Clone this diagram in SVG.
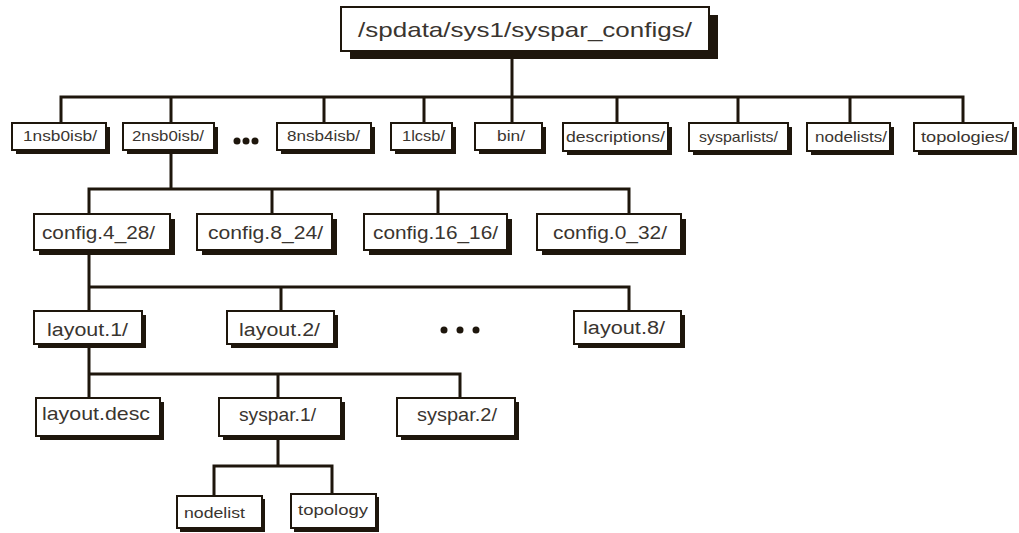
<svg xmlns="http://www.w3.org/2000/svg" width="1019" height="533" viewBox="0 0 1019 533">
<style>
.bg{fill:#ffffff}
.sh{fill:#1e160c}
.bx{fill:#ffffff;stroke:#1e160c;stroke-width:2}
.t{font-family:"Liberation Sans",Arial,sans-serif;fill:#3a3530}
.c{fill:none;stroke:#1e160c;stroke-width:3;stroke-linecap:square}
.dot{fill:#1e160c}
</style>
<rect class="bg" x="0" y="0" width="1019" height="533"/>
<g id="connectors">
<path class="c" d="M512 51V97M61 97H963M61 97V123M171 97V123M324 97V123M424 97V123M512 97V123M617 97V123M738 97V123M850 97V123M963 97V123"/>
<path class="c" d="M171 151V189M89 189H629M89 189V214M272 189V214M438 189V214M629 189V214"/>
<path class="c" d="M89 250V287M89 287H629M89 287V311M281 287V311M629 287V311"/>
<path class="c" d="M89 344V374M89 374H460M89 374V398M278 374V398M460 374V398"/>
<path class="c" d="M278 436V466M214 466H332M214 466V496M332 466V494"/>
</g>
<g id="root">
<rect class="sh" x="350" y="15" width="368" height="44"/>
<rect class="bx" x="341" y="7" width="368" height="44"/>
<text class="t" x="358" y="37" font-size="21" textLength="334" lengthAdjust="spacingAndGlyphs">/spdata/sys1/syspar_configs/</text>
</g>
<g id="n1nsb0isb">
<rect class="sh" x="16" y="127" width="94" height="27"/>
<rect class="bx" x="12" y="123" width="94" height="27"/>
<text class="t" x="23" y="141" font-size="15" textLength="74" lengthAdjust="spacingAndGlyphs">1nsb0isb/</text>
</g>
<g id="n2nsb0isb">
<rect class="sh" x="127" y="127" width="91" height="27"/>
<rect class="bx" x="123" y="123" width="91" height="27"/>
<text class="t" x="132" y="141" font-size="15" textLength="72" lengthAdjust="spacingAndGlyphs">2nsb0isb/</text>
</g>
<g id="dots1">
<circle class="dot" cx="237" cy="141" r="3.5"/>
<circle class="dot" cx="246" cy="141" r="3.5"/>
<circle class="dot" cx="255" cy="141" r="3.5"/>
</g>
<g id="n8nsb4isb">
<rect class="sh" x="281" y="127" width="94" height="27"/>
<rect class="bx" x="277" y="123" width="94" height="27"/>
<text class="t" x="287" y="141" font-size="15" textLength="73" lengthAdjust="spacingAndGlyphs">8nsb4isb/</text>
</g>
<g id="n1lcsb">
<rect class="sh" x="395" y="127" width="61" height="27"/>
<rect class="bx" x="391" y="123" width="61" height="27"/>
<text class="t" x="402" y="141" font-size="15" textLength="43" lengthAdjust="spacingAndGlyphs">1lcsb/</text>
</g>
<g id="nbin">
<rect class="sh" x="479" y="127" width="67" height="27"/>
<rect class="bx" x="475" y="123" width="67" height="27"/>
<text class="t" x="497" y="141" font-size="15" textLength="28" lengthAdjust="spacingAndGlyphs">bin/</text>
</g>
<g id="ndescriptions">
<rect class="sh" x="567" y="127" width="105" height="28"/>
<rect class="bx" x="563" y="123" width="105" height="28"/>
<text class="t" x="566" y="142" font-size="15" textLength="99" lengthAdjust="spacingAndGlyphs">descriptions/</text>
</g>
<g id="nsysparlists">
<rect class="sh" x="693" y="127" width="99" height="28"/>
<rect class="bx" x="689" y="123" width="99" height="28"/>
<text class="t" x="699" y="142" font-size="15" textLength="79" lengthAdjust="spacingAndGlyphs">sysparlists/</text>
</g>
<g id="nnodelists">
<rect class="sh" x="811" y="127" width="83" height="28"/>
<rect class="bx" x="807" y="123" width="83" height="28"/>
<text class="t" x="815" y="142" font-size="15" textLength="72" lengthAdjust="spacingAndGlyphs">nodelists/</text>
</g>
<g id="ntopologies">
<rect class="sh" x="918" y="127" width="99" height="28"/>
<rect class="bx" x="914" y="123" width="99" height="28"/>
<text class="t" x="921" y="142" font-size="15" textLength="88" lengthAdjust="spacingAndGlyphs">topologies/</text>
</g>
<g id="config_4_28">
<rect class="sh" x="39" y="219" width="136" height="36"/>
<rect class="bx" x="34" y="214" width="136" height="36"/>
<text class="t" x="42" y="239" font-size="18" textLength="113" lengthAdjust="spacingAndGlyphs">config.4_28/</text>
</g>
<g id="config_8_24">
<rect class="sh" x="202" y="219" width="135" height="36"/>
<rect class="bx" x="197" y="214" width="135" height="36"/>
<text class="t" x="208" y="239" font-size="18" textLength="115" lengthAdjust="spacingAndGlyphs">config.8_24/</text>
</g>
<g id="config_16_16">
<rect class="sh" x="369" y="219" width="143" height="36"/>
<rect class="bx" x="364" y="214" width="143" height="36"/>
<text class="t" x="373" y="239" font-size="18" textLength="125" lengthAdjust="spacingAndGlyphs">config.16_16/</text>
</g>
<g id="config_0_32">
<rect class="sh" x="542" y="219" width="144" height="36"/>
<rect class="bx" x="537" y="214" width="144" height="36"/>
<text class="t" x="553" y="239" font-size="18" textLength="114" lengthAdjust="spacingAndGlyphs">config.0_32/</text>
</g>
<g id="layout_1">
<rect class="sh" x="38" y="315" width="108" height="33"/>
<rect class="bx" x="34" y="311" width="108" height="33"/>
<text class="t" x="47" y="336" font-size="18" textLength="81" lengthAdjust="spacingAndGlyphs">layout.1/</text>
</g>
<g id="layout_2">
<rect class="sh" x="231" y="315" width="107" height="33"/>
<rect class="bx" x="227" y="311" width="107" height="33"/>
<text class="t" x="239" y="336" font-size="18" textLength="81" lengthAdjust="spacingAndGlyphs">layout.2/</text>
</g>
<g id="dots2">
<circle class="dot" cx="444" cy="330" r="3.5"/>
<circle class="dot" cx="460" cy="330" r="3.5"/>
<circle class="dot" cx="476" cy="330" r="3.5"/>
</g>
<g id="layout_8">
<rect class="sh" x="578" y="315" width="107" height="33"/>
<rect class="bx" x="574" y="311" width="107" height="33"/>
<text class="t" x="583" y="334" font-size="18" textLength="82" lengthAdjust="spacingAndGlyphs">layout.8/</text>
</g>
<g id="layout_desc">
<rect class="sh" x="40" y="402" width="124" height="38"/>
<rect class="bx" x="36" y="398" width="124" height="38"/>
<text class="t" x="42" y="420" font-size="19" textLength="108" lengthAdjust="spacingAndGlyphs">layout.desc</text>
</g>
<g id="syspar_1">
<rect class="sh" x="223" y="402" width="122" height="38"/>
<rect class="bx" x="219" y="398" width="122" height="38"/>
<text class="t" x="239" y="421" font-size="19" textLength="77" lengthAdjust="spacingAndGlyphs">syspar.1/</text>
</g>
<g id="syspar_2">
<rect class="sh" x="401" y="402" width="118" height="38"/>
<rect class="bx" x="397" y="398" width="118" height="38"/>
<text class="t" x="417" y="421" font-size="19" textLength="80" lengthAdjust="spacingAndGlyphs">syspar.2/</text>
</g>
<g id="nodelist">
<rect class="sh" x="180" y="499" width="85" height="33"/>
<rect class="bx" x="177" y="496" width="85" height="32"/>
<text class="t" x="184" y="518" font-size="14" textLength="61" lengthAdjust="spacingAndGlyphs">nodelist</text>
</g>
<g id="topology">
<rect class="sh" x="294" y="497" width="85" height="35"/>
<rect class="bx" x="291" y="494" width="85" height="34"/>
<text class="t" x="298" y="515" font-size="14" textLength="70" lengthAdjust="spacingAndGlyphs">topology</text>
</g>
</svg>
